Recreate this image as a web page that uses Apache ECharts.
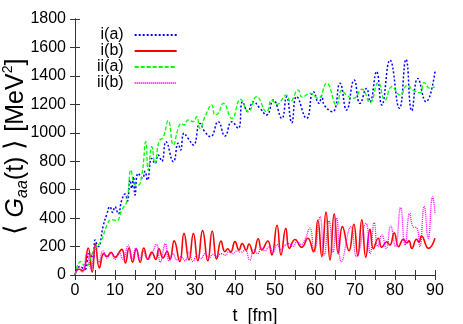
<!DOCTYPE html>
<html>
<head>
<meta charset="utf-8">
<script src="https://cdn.jsdelivr.net/npm/echarts@6/dist/echarts.min.js"></script>
<style>
  html, body { margin: 0; padding: 0; background: #fff; }
  #main { width: 463px; height: 324px; }
</style>
</head>
<body>
<div id="main"></div>
<script>
// series names
var names = ['i(a)', 'i(b)', 'ii(a)', 'ii(b)'];

var tIA = [0, 1.2, 2.5, 3.5, 4.6, 5, 5.8, 7.1, 7.9, 8.75, 9.4, 10, 10.8, 11.7, 12.5, 13.1, 13.75, 14.2, 14.6, 15, 15.8, 16.9, 17.5, 18.1, 19.2, 20, 20.8, 21.7, 22.75, 24.6, 25.8, 26.4, 27.25, 28.3, 29.6, 31.25, 32.4, 33.9, 35.8, 37.5, 39.2, 40.8, 41.9, 43.2, 44.6, 46.25, 47.9, 49.6, 51.7, 52.9, 54.2, 55.4, 57.9, 59.6, 61, 61.7, 62.3, 64.4, 66.25, 67.9, 69.8, 71.25, 72.9, 73.75, 75.4, 76.7, 78.75, 81.1, 82.75, 84.2, 85.7, 87.75, 90];
var vIA = [0, 60, 40, 150, 120, 246, 200, 351, 422, 480, 440, 480, 430, 527, 569, 520, 668, 610, 691, 562, 715, 680, 729, 668, 820, 785, 844, 800, 937, 797, 926, 879, 997, 960, 914, 1066, 1010, 973, 1078, 977, 1078, 1031, 1218, 1150, 1218, 1172, 1125, 1230, 1101, 1254, 1071, 1254, 1101, 1289, 1207, 1260, 1195, 1148, 1348, 1160, 1371, 1207, 1312, 1218, 1430, 1195, 1511, 1172, 1516, 1155, 1382, 1218, 1430];

// i(b)
var tIB = [0, 1, 2, 3.3, 4.3, 5.1, 6.1, 7.2, 8, 9, 10, 11.7, 12.6, 13.5, 14.4, 15.3, 16.3, 17.2, 18.2, 19.2, 20.2, 21, 22, 23, 23.75, 24.8, 26.2, 27.25, 28.5, 29.6, 30.7, 31.9, 33.2, 34.3, 35.4, 36.5, 37.5, 38.2, 38.9, 40, 41, 41.8, 42.8, 43.5, 44.6, 45.8, 46.7, 48.2, 49.2, 50.5, 51.5, 52.7, 53.6, 55, 56.7, 58.2, 59.6, 60.7, 61.7, 62.75, 63.75, 64.8, 65.8, 66.85, 68.5, 69.7, 70.7, 71.7, 72.7, 73.75, 74.6, 75.8, 76.7, 77.9, 78.7, 79.8, 80.9, 82.1, 82.9, 83.5, 84.2, 85.4, 86, 86.6, 88.4, 90];
var vIB = [0, 40, 30, 190, 20, 220, 50, 150, 130, 160, 125, 180, 85, 190, 90, 185, 90, 190, 110, 160, 110, 185, 120, 165, 110, 240, 94, 293, 105, 293, 100, 312, 100, 309, 112, 238, 164, 185, 160, 235, 175, 222, 175, 218, 152, 255, 176, 239, 141, 350, 141, 328, 187, 250, 195, 258, 164, 385, 129, 442, 105, 430, 152, 340, 170, 357, 135, 389, 124, 321, 185, 258, 195, 234, 211, 296, 199, 251, 225, 240, 187, 251, 230, 274, 187, 258];

// ii(a)
var tIIA = [0, 1.4, 2.6, 4.75, 6.4, 8, 8.9, 9.6, 10.4, 11.7, 12.9, 14, 14.75, 15.7, 16.7, 17.7, 18.3, 19.2, 20, 21, 22.1, 23.3, 24.6, 25.8, 26.6, 27.25, 28.3, 29.6, 30.4, 31.25, 32.5, 34.2, 35, 35.8, 37.1, 39.2, 41.4, 43.3, 45.4, 47.9, 49.2, 50.4, 52.9, 53.8, 55.8, 56.8, 58.75, 60.8, 62.9, 65.4, 66.7, 67.7, 69.6, 71.7, 73.75, 75.8, 77.5, 79.2, 81.25, 83.1, 84.5, 86.25, 87.25, 88.75, 90];
var vIIA = [0, 94, 59, 176, 234, 351, 387, 387, 380, 457, 515, 738, 644, 630, 700, 937, 738, 902, 785, 937, 973, 1085, 914, 1031, 1066, 1054, 1090, 1078, 1113, 1031, 1113, 1195, 1125, 1137, 1207, 1101, 1235, 1148, 1254, 1148, 1230, 1200, 1265, 1220, 1300, 1250, 1277, 1242, 1348, 1195, 1300, 1270, 1242, 1306, 1212, 1353, 1230, 1324, 1265, 1335, 1300, 1282, 1353, 1312, 1324];

// ii(b)
var tIIB = [0, 1, 1.8, 3, 4, 5, 6, 7, 8, 9, 10, 11, 12, 13.3, 14.3, 15.2, 16.2, 17, 18.2, 19.2, 20.4, 21.3, 22.6, 23.5, 24.5, 25.5, 26.5, 27.5, 28.5, 29.5, 30.5, 31.5, 32.5, 33.5, 34.5, 35.5, 36.5, 37.6, 38.5, 39.5, 40.5, 41.5, 42.5, 43.7, 44.7, 45.7, 46.5, 47.5, 48.5, 49.5, 50.5, 51.5, 52.5, 53.5, 54.5, 55.5, 56.5, 57.5, 58.7, 59.8, 61.25, 62.3, 63.5, 64.5, 65.4, 66.6, 69, 70.4, 72.75, 73.8, 74.8, 75.7, 76.7, 77.8, 78.9, 80.1, 81.4, 82.5, 83.7, 84.5, 85.5, 86.2, 87.3, 88.3, 89.4, 90];
var vIIB = [0, 50, 20, 150, 40, 200, 90, 170, 120, 150, 110, 160, 110, 210, 110, 190, 110, 170, 110, 150, 215, 90, 220, 100, 150, 105, 130, 100, 160, 95, 140, 115, 150, 120, 145, 130, 150, 140, 165, 150, 170, 160, 175, 105, 180, 150, 190, 170, 200, 160, 215, 180, 210, 220, 200, 235, 215, 250, 330, 160, 410, 140, 380, 160, 400, 94, 340, 129, 363, 150, 368, 200, 281, 187, 345, 200, 475, 211, 434, 340, 330, 199, 483, 258, 550, 434];

var xTicks = [0, 10, 20, 30, 40, 50, 60, 70, 80, 90];
var yTicks = [0, 200, 400, 600, 800, 1000, 1200, 1400, 1600, 1800];

function pairs(ts, vs) {
    var out = [];
    for (var i = 0; i < ts.length; i++) out.push([ts[i], vs[i]]);
    return out;
}

var frame = '#333';
var font = '"Liberation Sans", Arial, sans-serif';

var seriesStyle = [
    { color: '#0000ff', type: [2, 2], width: 1.5 },
    { color: '#ff0000', type: 'solid', width: 1.6 },
    { color: '#00ff00', type: [4, 2], width: 1.3 },
    { color: '#ff00ff', type: [1, 1], width: 1.3 }
];
var seriesData = [pairs(tIA, vIA), pairs(tIB, vIB), pairs(tIIA, vIIA), pairs(tIIB, vIIB)];

var axisCommon = {
    type: 'value',
    axisLine: { show: true, lineStyle: { color: frame, width: 1 } },
    axisTick: { show: true, inside: true, length: 5, lineStyle: { color: frame } },
    splitLine: { show: false }
};

var option = {
    animation: false,
    // legend inside the plot, top-left: text, then the line sample
    legend: {
        data: names,
        left: 92,
        top: 22,
        orient: 'vertical',
        align: 'right',
        itemGap: 0,
        itemWidth: 42,
        itemHeight: 16,
        selectedMode: false,
        itemStyle: { opacity: 0 },
        textStyle: { fontFamily: font, fontSize: 16, color: '#000', width: 40, align: 'right', padding: [0, 6, 0, 0] }
    },
    grid: { left: 75, right: 28, top: 19, bottom: 49, show: false, outerBoundsMode: 'none', containLabel: false },
    xAxis: [
        Object.assign({}, axisCommon, {
            min: xTicks[0], max: xTicks[xTicks.length - 1], interval: 10,
            minorTick: { show: true, splitNumber: 2, length: 5, lineStyle: { color: frame } },
            axisLabel: { fontFamily: font, fontSize: 16, color: '#000', margin: 8, formatter: function (v) { return String(v); } },
            name: 't  [fm]',
            nameLocation: 'middle',
            nameGap: 32,
            nameMoveOverlap: false,
            nameTextStyle: { fontFamily: font, fontSize: 18, color: '#000' }
        }),
        Object.assign({}, axisCommon, {
            position: 'top',
            min: xTicks[0], max: xTicks[xTicks.length - 1], interval: 10,
            minorTick: { show: true, splitNumber: 2, length: 5, lineStyle: { color: frame } },
            axisLabel: { show: false }
        })
    ],
    yAxis: [
        Object.assign({}, axisCommon, {
            min: yTicks[0], max: yTicks[yTicks.length - 1], interval: 200,
            axisLabel: { fontFamily: font, fontSize: 16, color: '#000', margin: 9, formatter: function (v) { return String(v); } },
            name: '{b|⟨} {it|G}{sub|aa}{n|(t)} {b|⟩} {n|[MeV}{sup|2}{n|]}',
            nameLocation: 'middle',
            nameGap: 44,
            nameMoveOverlap: false,
            nameTextStyle: {
                fontFamily: font, fontSize: 25, color: '#000',
                rich: {
                    n: { fontFamily: font, fontSize: 25, lineHeight: 30, color: '#000' },
                    b: { fontFamily: font, fontSize: 27, lineHeight: 30, color: '#000' },
                    it: { fontFamily: font, fontSize: 25, lineHeight: 30, fontStyle: 'italic', color: '#000' },
                    sub: { fontFamily: font, fontSize: 16, lineHeight: 16, fontStyle: 'italic', verticalAlign: 'bottom', color: '#000' },
                    sup: { fontFamily: font, fontSize: 14, lineHeight: 14, verticalAlign: 'top', color: '#000' }
                }
            }
        }),
        Object.assign({}, axisCommon, {
            position: 'right',
            min: yTicks[0], max: yTicks[yTicks.length - 1], interval: 200,
            axisLabel: { show: false }
        })
    ],
    series: names.map(function (n, i) {
        return {
            name: n,
            type: 'line',
            data: seriesData[i],
            showSymbol: false,
            symbol: 'none',
            smooth: 0.5,
            clip: true,
            lineStyle: seriesStyle[i],
            itemStyle: { color: seriesStyle[i].color }
        };
    })
};

var chart = echarts.init(document.getElementById('main'));
chart.setOption(option);
</script>
</body>
</html>
